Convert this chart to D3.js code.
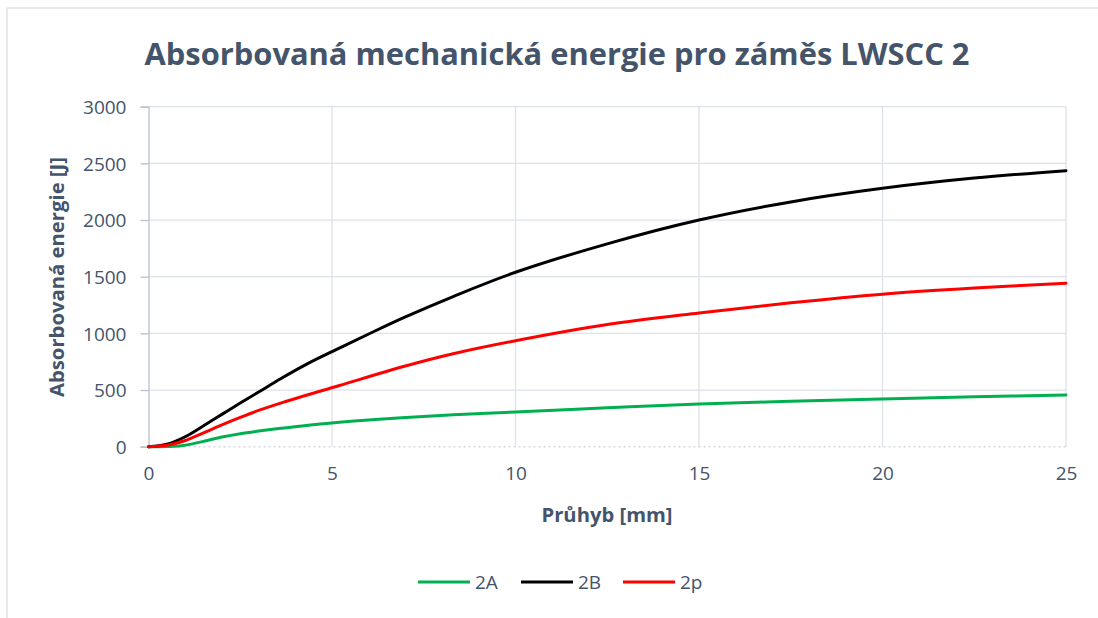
<!DOCTYPE html>
<html>
<head>
<meta charset="utf-8">
<script src="https://cdn.jsdelivr.net/npm/d3@7"></script>
<style>
  html, body { margin: 0; padding: 0; background: #fff; }
  svg { display: block; }
  text { font-family: "Open Sans", "Liberation Sans", sans-serif; fill: #44546a; }
</style>
</head>
<body>
<svg id="chart" width="1098" height="618"></svg>
<script>
// Deflection [mm] and absorbed energy [J] for each specimen
const defl2A = [0, 0.5, 0.9, 1.2, 1.6, 2.0, 2.5, 3.0, 3.6, 4.3, 5.2, 6.0, 6.9, 8.3, 10, 12.5, 15, 17.5, 20, 22.5, 25];
const energy2A = [0, 2, 8, 25, 55, 85, 115, 138, 162, 188, 215, 236, 256, 282, 306, 343, 377, 400, 421, 440, 456];

const defl2B = [0, 0.5, 1.0, 1.5, 2.0, 2.5, 3.0, 3.6, 4.3, 5.2, 6.1, 7.0, 8.3, 10, 12.5, 15, 17.5, 20, 22.5, 25];
const energy2B = [0, 22, 88, 185, 285, 385, 482, 600, 727, 870, 1010, 1145, 1325, 1539, 1790, 2000, 2160, 2280, 2370, 2435];

const defl2p = [0, 0.5, 1.0, 1.5, 2.0, 2.5, 3.0, 3.6, 5.2, 7.0, 8.3, 10, 12.5, 15, 17.5, 20, 22.5, 25];
const energy2p = [0, 12, 55, 122, 192, 258, 320, 385, 540, 712, 820, 935, 1078, 1180, 1270, 1346, 1400, 1443];

const seriesNames = ["2A", "2B", "2p"];
const seriesColors = ["#00b050", "#000000", "#ff0000"];

const xTicks = [0, 5, 10, 15, 20, 25];
const yTicks = [0, 500, 1000, 1500, 2000, 2500, 3000];

const chartTitle = "Absorbovaná mechanická energie pro záměs LWSCC 2";
const xTitle = "Průhyb [mm]";
const yTitle = "Absorbovaná energie [J]";

const svg = d3.select("#chart");

// outer chart frame
svg.append("path")
  .attr("d", "M7,618 V8 H1098")
  .attr("fill", "none")
  .attr("stroke", "#dfe3e8")
  .attr("stroke-width", 1.5);

const x = d3.scaleLinear().domain([0, 25]).range([148.5, 1066]);
const y = d3.scaleLinear().domain([0, 3000]).range([446.7, 106.7]);

// gridlines
svg.append("g").selectAll("line").data(yTicks.filter(d => d > 0)).join("line")
  .attr("x1", x(0)).attr("x2", x(25))
  .attr("y1", d => y(d)).attr("y2", d => y(d))
  .attr("stroke", "#dde1e8").attr("stroke-width", 1.3);
svg.append("g").selectAll("line").data(xTicks.filter(d => d > 0)).join("line")
  .attr("x1", d => x(d)).attr("x2", d => x(d))
  .attr("y1", y(0)).attr("y2", y(3000))
  .attr("stroke", "#dde1e8").attr("stroke-width", 1.3);

// dotted x baseline
svg.append("line")
  .attr("x1", x(0)).attr("x2", x(25))
  .attr("y1", y(0)).attr("y2", y(0))
  .attr("stroke", "#d5dae2").attr("stroke-width", 1.5)
  .attr("stroke-dasharray", "2,3");

// y axis
const yAxis = d3.axisLeft(y).tickValues(yTicks).tickFormat(d3.format("d")).tickSize(8).tickPadding(14);
const gy = svg.append("g").attr("transform", `translate(${x(0)},0)`).call(yAxis);
gy.select(".domain").attr("stroke", "#b7bfd0").attr("stroke-width", 1.3);
gy.selectAll(".tick line").attr("stroke", "#b7bfd0").attr("stroke-width", 1.3);
gy.selectAll(".tick text").style("font-size", "19px").attr("fill", "#44546a").attr("dy", "0.35em");

// x axis labels
const xAxis = d3.axisBottom(x).tickValues(xTicks).tickFormat(d3.format("d")).tickSize(0).tickPadding(33);
const gx = svg.append("g").attr("transform", `translate(0,${y(0)})`).call(xAxis);
gx.select(".domain").remove();
gx.selectAll(".tick text").style("font-size", "19px").attr("fill", "#44546a").attr("dy", "0");

// series lines
const line = d3.line().x(d => x(d[0])).y(d => y(d[1])).curve(d3.curveCatmullRom.alpha(0.5));
const series = [
  d3.zip(defl2A, energy2A),
  d3.zip(defl2B, energy2B),
  d3.zip(defl2p, energy2p)
];
series.forEach((pts, i) => {
  svg.append("path")
    .datum(pts)
    .attr("d", line)
    .attr("fill", "none")
    .attr("stroke", seriesColors[i])
    .attr("stroke-width", 3)
    .attr("stroke-linejoin", "round")
    .attr("stroke-linecap", "round");
});

// titles
svg.append("text")
  .attr("x", 557).attr("y", 65)
  .attr("text-anchor", "middle")
  .style("font-size", "31px").style("font-weight", "bold")
  .attr("textLength", 825).attr("lengthAdjust", "spacingAndGlyphs")
  .text(chartTitle);

svg.append("text")
  .attr("x", 607).attr("y", 522)
  .attr("text-anchor", "middle")
  .style("font-size", "19px").style("font-weight", "bold")
  .attr("textLength", 131).attr("lengthAdjust", "spacingAndGlyphs")
  .text(xTitle);

svg.append("text")
  .attr("transform", "translate(64,277) rotate(-90)")
  .attr("text-anchor", "middle")
  .style("font-size", "19px").style("font-weight", "bold")
  .attr("textLength", 240).attr("lengthAdjust", "spacingAndGlyphs")
  .text(yTitle);

// legend
const legendX = [418, 521, 623];
const lg = svg.append("g").selectAll("g").data(seriesNames).join("g")
  .attr("transform", (d, i) => `translate(${legendX[i]},582)`);
lg.append("line")
  .attr("x1", 0).attr("x2", 52).attr("y1", 0).attr("y2", 0)
  .attr("stroke", (d, i) => seriesColors[i]).attr("stroke-width", 3);
lg.append("text")
  .attr("x", 57).attr("y", 0).attr("dy", "0.35em")
  .style("font-size", "19px")
  .text(d => d);
</script>
</body>
</html>
